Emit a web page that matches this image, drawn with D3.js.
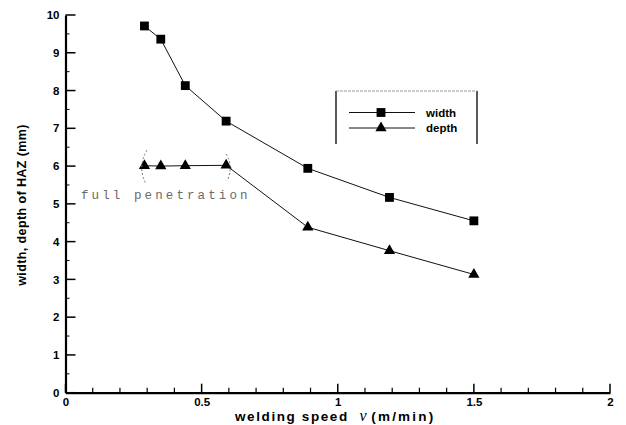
<!DOCTYPE html>
<html><head><meta charset="utf-8">
<script src="https://cdn.jsdelivr.net/npm/d3@7"></script>
<style>body{margin:0;background:#fff}svg{display:block}</style>
</head><body>
<svg id="c" width="626" height="425"></svg>
<script>
const speeds = [0.29, 0.35, 0.44, 0.59, 0.89, 1.19, 1.5];
const widthVals = [9.71, 9.36, 8.13, 7.19, 5.94, 5.17, 4.55];
const depthVals = [6.01, 6.0, 6.01, 6.02, 4.38, 3.76, 3.13];
const xTicks = [0, 0.5, 1, 1.5, 2];
const xTickLabels = ["0", "0.5", "1", "1.5", "2"];
const yTicks = [0,1,2,3,4,5,6,7,8,9,10];
const seriesNames = ["width", "depth"];

const svg = d3.select("#c");
const x = d3.scaleLinear().domain([0, 2]).range([65.5, 610]);
const y = d3.scaleLinear().domain([0, 10]).range([392.7, 15]);
const font = "Arial, 'Liberation Sans', sans-serif";

// axes
const xAxis = d3.axisBottom(x).tickValues(xTicks).tickFormat((d,i)=>xTickLabels[i]).tickSize(0).tickPadding(5);
const gx = svg.append("g").attr("transform", `translate(0,${y(0)})`).call(xAxis);
gx.select(".domain").attr("stroke", "#000").attr("stroke-width", 2.2);
gx.selectAll("text").attr("font-family", font).attr("font-weight", "bold").attr("font-size", 11.5);
svg.append("g").selectAll("line").data(xTicks).join("line")
  .attr("x1", d=>x(d)).attr("x2", d=>x(d)).attr("y1", y(0)).attr("y2", y(0)-9)
  .attr("stroke", "#000").attr("stroke-width", 1.5);
svg.append("g").selectAll("line").data(d3.range(1,20).filter(i=>i%5!==0).map(i=>i/10)).join("line")
  .attr("x1", d=>x(d)).attr("x2", d=>x(d)).attr("y1", y(0)).attr("y2", y(0)-5)
  .attr("stroke", "#000").attr("stroke-width", 1.2);

const yAxis = d3.axisLeft(y).tickValues(yTicks).tickSize(0).tickPadding(6);
const gy = svg.append("g").attr("transform", `translate(${x(0)},0)`).call(yAxis);
gy.select(".domain").attr("stroke", "#000").attr("stroke-width", 2.2);
gy.selectAll("text").attr("font-family", font).attr("font-weight", "bold").attr("font-size", 11.5);
svg.append("g").selectAll("line").data(yTicks).join("line")
  .attr("x1", x(0)).attr("x2", x(0)+10).attr("y1", d=>y(d)).attr("y2", d=>y(d))
  .attr("stroke", "#000").attr("stroke-width", 1.5);
svg.append("g").selectAll("line").data(d3.range(0,10).map(i=>i+0.5)).join("line")
  .attr("x1", x(0)).attr("x2", x(0)+4).attr("y1", d=>y(d)).attr("y2", d=>y(d))
  .attr("stroke", "#000").attr("stroke-width", 1);

// axis titles
svg.append("text").attr("transform", `translate(26,205) rotate(-90)`).attr("text-anchor","middle")
  .attr("font-family", font).attr("font-weight","bold").attr("font-size", 12.5).attr("letter-spacing","0.4px")
  .text("width, depth of HAZ (mm)");
const xt = svg.append("text").attr("x", 235).attr("y", 421)
  .attr("font-family", font).attr("font-weight","bold").attr("font-size", 13.5).attr("letter-spacing","1.6px");
xt.append("tspan").text("welding speed\u00a0\u00a0");
xt.append("tspan").attr("font-family","'Liberation Serif', serif").attr("font-style","italic").attr("font-weight","normal").attr("font-size",16).text("v");
xt.append("tspan").attr("dx", 3).attr("letter-spacing","2.2px").text("(m/min)");

// lines
const line = d3.line().x((d,i)=>x(speeds[i])).y(d=>y(d));
svg.append("path").attr("d", line(widthVals)).attr("fill","none").attr("stroke","#111").attr("stroke-width",1);
svg.append("path").attr("d", line(depthVals)).attr("fill","none").attr("stroke","#111").attr("stroke-width",1);

const sq = d3.symbol().type(d3.symbolSquare).size(78);
const tri = d3.symbol().type(d3.symbolTriangle).size(55);
svg.append("g").selectAll("path").data(widthVals).join("path")
  .attr("d", sq).attr("transform", (d,i)=>`translate(${x(speeds[i])},${y(d)})`).attr("fill","#000");
svg.append("g").selectAll("path").data(depthVals).join("path")
  .attr("d", tri).attr("transform", (d,i)=>`translate(${x(speeds[i])},${y(d)})`).attr("fill","#000");

// dashed bracket arcs around full penetration points
svg.append("path").attr("d", "M147,150 Q137,167 146,184").attr("fill","none")
  .attr("stroke","#777").attr("stroke-width",1).attr("stroke-dasharray","2,2");
svg.append("path").attr("d", "M226,154 Q234,167 227,181").attr("fill","none")
  .attr("stroke","#777").attr("stroke-width",1).attr("stroke-dasharray","2,2");
svg.append("text").attr("x", 81).attr("y", 199).attr("font-family","'Liberation Mono', 'DejaVu Sans Mono', monospace")
  .attr("font-size", 12.5).attr("letter-spacing", "3.1px").attr("fill","#6a6a6a").text("full penetration");

// legend
const lg = svg.append("g");
lg.append("line").attr("x1",336).attr("x2",336).attr("y1",91).attr("y2",144).attr("stroke","#000").attr("stroke-width",1.3);
lg.append("line").attr("x1",477).attr("x2",477).attr("y1",91).attr("y2",144).attr("stroke","#000").attr("stroke-width",1.3);
lg.append("line").attr("x1",336).attr("x2",477).attr("y1",91).attr("y2",91).attr("stroke","#999").attr("stroke-width",1).attr("stroke-dasharray","3,1");
const rows = [112.5, 128];
seriesNames.forEach((n,i)=>{
  lg.append("line").attr("x1",349).attr("x2",415).attr("y1",rows[i]).attr("y2",rows[i]).attr("stroke","#111").attr("stroke-width",1);
  lg.append("path").attr("d", i===0?sq:tri).attr("transform",`translate(381,${rows[i]})`).attr("fill","#000");
  lg.append("text").attr("x",426).attr("y",rows[i]+4).attr("font-family",font).attr("font-weight","bold")
    .attr("font-size",11.5).text(n);
});
</script>
</body></html>
